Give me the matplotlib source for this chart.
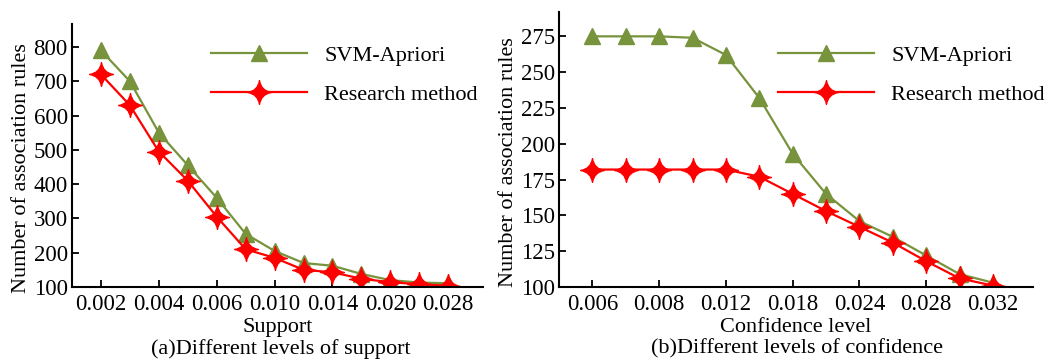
import matplotlib
matplotlib.use('Agg')
import matplotlib.pyplot as plt
from matplotlib.path import Path

plt.rcParams['font.family'] = ['Liberation Serif', 'DejaVu Serif']

# (a) support levels
support_ticks = ['0.002', '0.004', '0.006', '0.010', '0.014', '0.020', '0.028']
svm_support = [790, 700, 550, 455, 360, 255, 205, 170, 162, 138, 120, 113, 111]
our_support = [720, 630, 495, 410, 305, 210, 185, 150, 143, 124, 114, 108, 104]

# (b) confidence levels
conf_ticks = ['0.006', '0.008', '0.012', '0.018', '0.024', '0.028', '0.032']
svm_conf = [275, 275, 275, 274, 262, 232, 193, 165, 146, 135, 122, 109, 103]
our_conf = [182, 182, 182, 182, 182, 177, 165, 153, 142, 131, 118, 106, 101]

green = '#77933C'
red = '#FF0000'

# 4 pointed star with concave sides
k = 0.14
star = Path([(0, 1), (k, k), (1, 0), (k, -k), (0, -1), (-k, -k), (-1, 0), (-k, k), (0, 1), (0, 1)],
            [Path.MOVETO, Path.CURVE3, Path.CURVE3, Path.CURVE3, Path.CURVE3,
             Path.CURVE3, Path.CURVE3, Path.CURVE3, Path.CURVE3, Path.CLOSEPOLY])

fig = plt.figure(figsize=(10.54, 3.6), dpi=100)
W, H = 1054, 360
ax1 = fig.add_axes([72/W, 73/H, 411/W, 263/H])
ax2 = fig.add_axes([559/W, 73/H, 474/W, 275/H])

def draw(ax, svm, ours, ticks, ylim, yticks, xlabel, leg_x):
    x = list(range(len(svm)))
    ax.plot(x, svm, color=green, lw=1.6, marker='^', ms=11, mec=green, mfc=green, label='SVM-Apriori')
    ax.plot(x, ours, color=red, lw=1.6, marker=star, ms=17, mec=red, mfc=red, label='Research method')
    ax.set_xlim(-1.0, 13.2)
    ax.set_ylim(*ylim)
    ax.set_xticks(x[::2])
    ax.set_xticklabels(ticks)
    ax.set_yticks(yticks)
    for s in ['top', 'right']:
        ax.spines[s].set_visible(False)
    for s in ['left', 'bottom']:
        ax.spines[s].set_linewidth(1.5)
    ax.tick_params(direction='in', length=5, width=1.3, labelsize=16.5, pad=5)
    ax.tick_params(axis='y', pad=3)
    ax.set_xlabel(xlabel, fontsize=16, labelpad=2)
    ax.set_ylabel('Number of association rules', fontsize=16)
    ax.legend(loc='upper left', bbox_to_anchor=(leg_x/W, 1 - 45/H), bbox_transform=fig.transFigure,
              frameon=False, fontsize=16, handlelength=4.3, handletextpad=0.8,
              labelspacing=0.85, borderpad=0, borderaxespad=0)

draw(ax1, svm_support, our_support, support_ticks, (100, 867), range(100, 801, 100), 'Support', 211)
draw(ax2, svm_conf, our_conf, conf_ticks, (100, 292), range(100, 276, 25), 'Confidence level', 778)

ax1.yaxis.set_label_coords(-0.1, 0.452)
ax2.yaxis.set_label_coords(-0.0865, 0.455)

fig.text(281/W, 1 - 349/H, '(a)Different levels of support', fontsize=16, ha='center', va='center')
fig.text(797/W, 1 - 349/H, '(b)Different levels of confidence', fontsize=16, ha='center', va='center')

fig.savefig('out.png', dpi=100)
